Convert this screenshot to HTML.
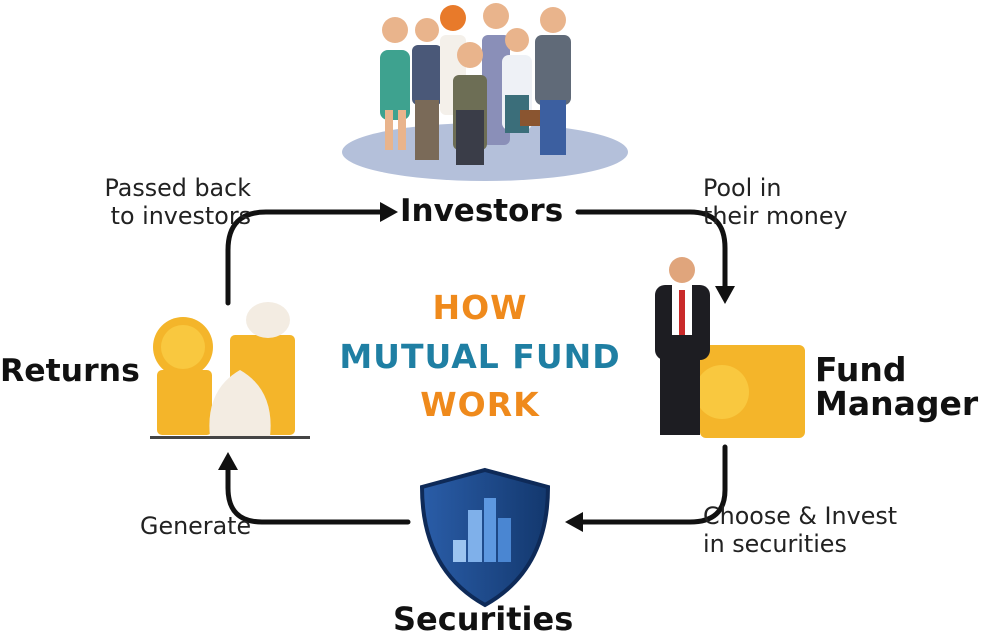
<!DOCTYPE html>
<html><head><meta charset="utf-8"><style>
html,body{margin:0;padding:0;background:#fff;}
body{width:981px;height:637px;position:relative;overflow:hidden;font-family:"DejaVu Sans","Liberation Sans",sans-serif;}
.t{position:absolute;white-space:nowrap;}
.b{font-weight:bold;color:#111;font-size:30px;}
.s{font-size:23.8px;color:#222;line-height:28px;}
.h{font-weight:bold;font-size:33px;text-align:center;width:400px;left:280px;letter-spacing:1px;}
</style></head><body>
<svg width="981" height="637" style="position:absolute;left:0;top:0">
<defs><linearGradient id="sh" x1="0" x2="1"><stop offset="0" stop-color="#2a5da8"/><stop offset="1" stop-color="#13386e"/></linearGradient></defs>
<g fill="none" stroke="#111" stroke-width="5" stroke-linecap="round">
<path d="M228,303 L228,250 Q228,212 266,212 L380,212"/>
<path d="M578,212 L690,212 Q725,212 725,248 L725,286"/>
<path d="M725,447 L725,490 Q725,522 690,522 L583,522"/>
<path d="M408,522 L262,522 Q228,522 228,488 L228,470"/>
</g>
<path d="M380,202 L398,212 L380,222 Z" fill="#111"/>
<path d="M715,286 L725,304 L735,286 Z" fill="#111"/>
<path d="M583,512 L565,522 L583,532 Z" fill="#111"/>
<path d="M218,470 L228,452 L238,470 Z" fill="#111"/>
<ellipse cx="485" cy="152" rx="143" ry="29" fill="#b4c0da"/>
<g>
<rect x="380" y="50" width="30" height="70" rx="8" fill="#3ea28f"/><circle cx="395" cy="30" r="13" fill="#e9b48c"/><rect x="385" y="110" width="8" height="40" fill="#e9b48c"/><rect x="398" y="110" width="8" height="40" fill="#e9b48c"/>
<rect x="412" y="45" width="30" height="60" rx="6" fill="#4a5878"/><circle cx="427" cy="30" r="12" fill="#e9b48c"/><rect x="415" y="100" width="24" height="60" fill="#7a6a58"/>
<rect x="440" y="35" width="26" height="80" rx="6" fill="#f4f0ea"/><circle cx="453" cy="18" r="13" fill="#e87a2a"/>
<rect x="482" y="35" width="28" height="110" rx="6" fill="#8a8fb8"/><circle cx="496" cy="16" r="13" fill="#e9b48c"/>
<rect x="453" y="75" width="34" height="75" rx="6" fill="#6d6e55"/><circle cx="470" cy="55" r="13" fill="#e9b48c"/><rect x="456" y="110" width="28" height="55" fill="#3a3d48"/>
<rect x="502" y="55" width="30" height="75" rx="7" fill="#eef1f6"/><circle cx="517" cy="40" r="12" fill="#e9b48c"/><rect x="505" y="95" width="24" height="38" fill="#3b6e7a"/><rect x="520" y="110" width="20" height="16" fill="#8a5530"/>
<rect x="535" y="35" width="36" height="70" rx="7" fill="#606a78"/><circle cx="553" cy="20" r="13" fill="#e9b48c"/><rect x="540" y="100" width="26" height="55" fill="#3c5fa0"/>
</g>
<g>
<circle cx="183" cy="347" r="30" fill="#f4b52a"/><circle cx="183" cy="347" r="22" fill="#f9c83f"/>
<rect x="157" y="370" width="55" height="65" rx="5" fill="#f4b52a"/>
<rect x="230" y="335" width="65" height="100" rx="5" fill="#f4b52a"/>
<path d="M210,437 Q205,390 240,370 Q275,390 270,437 Z" fill="#f3ece2"/>
<ellipse cx="268" cy="320" rx="22" ry="18" fill="#f3ece2"/>
<rect x="150" y="436" width="160" height="3" fill="#444"/>
</g>
<g>
<rect x="700" y="345" width="105" height="93" rx="6" fill="#f4b52a"/>
<circle cx="722" cy="392" r="36" fill="#f4b52a"/><circle cx="722" cy="392" r="27" fill="#f9c83f"/>
<rect x="655" y="285" width="55" height="75" rx="10" fill="#1d1d22"/>
<rect x="672" y="285" width="20" height="50" fill="#fff"/><rect x="679" y="290" width="6" height="45" fill="#c92a2a"/>
<circle cx="682" cy="270" r="13" fill="#e0a57c"/>
<rect x="660" y="355" width="40" height="80" fill="#1d1d22"/>
</g>
<path d="M485,470 L548,487 Q548,570 485,605 Q422,570 422,487 Z" fill="url(#sh)" stroke="#0e2a58" stroke-width="4"/>
<rect x="453" y="540" width="13" height="22" fill="#9cc4f0"/><rect x="468" y="510" width="14" height="52" fill="#7fb0ea"/><rect x="484" y="498" width="12" height="64" fill="#5d98e0"/><rect x="498" y="518" width="13" height="44" fill="#4a86d2"/>
</svg>
<div class="t b" style="left:400px;top:193px;font-size:31px">Investors</div>
<div class="t b" style="left:0;top:353px;font-size:31.5px">Returns</div>
<div class="t b" style="left:815px;top:353px;line-height:34px;font-size:33px">Fund<br>Manager</div>
<div class="t b" style="left:393px;top:600px;font-size:32px">Securities</div>
<div class="t h" style="top:288px;color:#ef8a1c">HOW</div>
<div class="t h" style="top:337px;color:#1f7fa3">MUTUAL FUND</div>
<div class="t h" style="top:385px;color:#ef8a1c">WORK</div>
<div class="t s" style="left:50px;top:174px;text-align:right;width:201px">Passed back<br>to investors</div>
<div class="t s" style="left:703px;top:174px">Pool in<br>their money</div>
<div class="t s" style="left:140px;top:512px">Generate</div>
<div class="t s" style="left:703px;top:502px">Choose &amp; Invest<br>in securities</div>
</body></html>
